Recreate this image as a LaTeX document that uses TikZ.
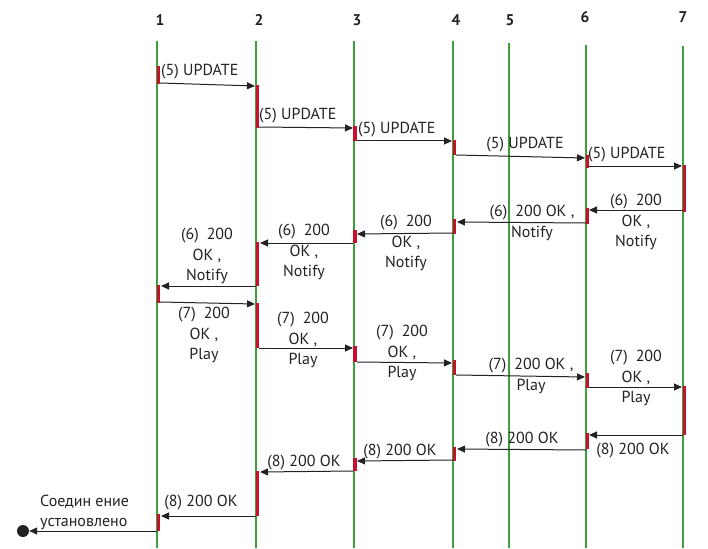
\documentclass[tikz,border=0pt]{standalone}
\usepackage{fontspec}
\setmainfont{PT Sans}
\usetikzlibrary{arrows.meta}
\definecolor{lifegreen}{HTML}{3DA03D}
\definecolor{actred}{HTML}{C8102E}
\definecolor{msgcol}{HTML}{222222}
\tikzset{
  life/.style={draw=lifegreen, line width=1.1pt},
  act/.style={draw=actred, line width=3.8pt},
  msg/.style={draw=msgcol, line width=1pt, -{Triangle[length=8pt,width=7pt]}},
  lbl/.style={font=\fontsize{16}{20.5}\selectfont, inner sep=0pt, text=msgcol},
  mlbl/.style={lbl, align=center},
  head/.style={font=\bfseries\fontsize{15.5}{16}\selectfont, inner sep=0pt, text=msgcol},
}
\begin{document}
\begin{tikzpicture}[x=1pt,y=-1pt]
\useasboundingbox (0,0) rectangle (708,548);
% heads
\node[head] (h1) at (160,19.5) {1};
\node[head] (h2) at (259,19.5) {2};
\node[head] (h3) at (357,20) {3};
\node[head] (h4) at (456,20) {4};
\node[head] (h5) at (510,20) {5};
\node[head] (h6) at (585,17) {6};
\node[head] (h7) at (683,17) {7};
% lifelines
\coordinate (t1) at (157,41); \coordinate (b1) at (157,548);
\coordinate (t2) at (256,41); \coordinate (b2) at (256,548);
\coordinate (t3) at (354,41); \coordinate (b3) at (354,548);
\coordinate (t4) at (453,41); \coordinate (b4) at (453,548);
\coordinate (t5) at (509,43); \coordinate (b5) at (509,548);
\coordinate (t6) at (586,45.5); \coordinate (b6) at (586,548);
\coordinate (t7) at (683,46); \coordinate (b7) at (683,548);
\foreach \i in {1,...,7} {\draw[life] (t\i) -- (b\i);}
% activation bars
\draw[act] (158.5,66) -- (158.5,84);
\draw[act] (257.5,85) -- (257.5,128);
\draw[act] (355,126) -- (355,141);
\draw[act] (454.5,140) -- (454.5,155);
\draw[act] (587.5,155) -- (587.5,168);
\draw[act] (684.5,165) -- (684.5,212);
\draw[act] (587.5,208) -- (587.5,224);
\draw[act] (454.5,219) -- (454.5,234);
\draw[act] (355,230) -- (355,243);
\draw[act] (257.5,242) -- (257.5,286);
\draw[act] (158.5,285) -- (158.5,303);
\draw[act] (257.5,303) -- (257.5,348);
\draw[act] (355,346) -- (355,362);
\draw[act] (454.5,360) -- (454.5,375);
\draw[act] (587.5,373) -- (587.5,388);
\draw[act] (684.5,386) -- (684.5,435);
\draw[act] (587.5,433) -- (587.5,449);
\draw[act] (454.5,447) -- (454.5,461);
\draw[act] (355,458) -- (355,471);
\draw[act] (257.5,471) -- (257.5,516);
\draw[act] (158.5,514) -- (158.5,531);
% messages
\coordinate (m1s) at (160,83);  \coordinate (m1e) at (255,86);
\coordinate (m2s) at (259,127); \coordinate (m2e) at (353,128);
\coordinate (m3s) at (357,141); \coordinate (m3e) at (452,141);
\coordinate (m4s) at (456,155); \coordinate (m4e) at (585,158);
\coordinate (m5s) at (589,166); \coordinate (m5e) at (682,166);
\coordinate (m6s) at (683,210); \coordinate (m6e) at (589,210);
\coordinate (m7s) at (586,223); \coordinate (m7e) at (457,222);
\coordinate (m8s) at (453,233); \coordinate (m8e) at (357,234);
\coordinate (m9s) at (353,243); \coordinate (m9e) at (260,243);
\coordinate (m10s) at (256,286); \coordinate (m10e) at (161,286);
\coordinate (m11s) at (160,302); \coordinate (m11e) at (255,304);
\coordinate (m12s) at (259,348); \coordinate (m12e) at (353,348);
\coordinate (m13s) at (357,362); \coordinate (m13e) at (452,363);
\coordinate (m14s) at (456,375); \coordinate (m14e) at (585,377);
\coordinate (m15s) at (589,387); \coordinate (m15e) at (682,387);
\coordinate (m16s) at (683,435); \coordinate (m16e) at (589,435);
\coordinate (m17s) at (586,450); \coordinate (m17e) at (457,449);
\coordinate (m18s) at (453,460); \coordinate (m18e) at (357,461);
\coordinate (m19s) at (353,471); \coordinate (m19e) at (260,472);
\coordinate (m20s) at (256,516); \coordinate (m20e) at (161,516);
\coordinate (m21s) at (157,531);
\node[circle, fill=msgcol, minimum size=12pt, inner sep=0pt] (dot) at (23,531) {};
\foreach \i in {1,...,20} {\draw[msg] (m\i s) -- (m\i e);}
\draw[msg] (m21s) -- (dot.east);
% labels
\node[lbl, anchor=west] (l1) at (161,72) {(5) UPDATE};
\node[lbl, anchor=west] (l2) at (259,116) {(5) UPDATE};
\node[lbl, anchor=west] (l3) at (358,130) {(5) UPDATE};
\node[lbl] (l4) at (525,145) {(5) UPDATE};
\node[lbl, anchor=west] (l5) at (588,155) {(5) UPDATE};
\node[mlbl] (l6) at (636,222) {(6)\enspace200\\OK ,\\Notify};
\node[mlbl] (l7) at (532,223) {(6)\enspace200 OK ,\\Notify};
\node[mlbl] (l8) at (406,243) {(6)\enspace200\\OK ,\\Notify};
\node[mlbl] (l9) at (304,252) {(6)\enspace200\\OK ,\\Notify};
\node[mlbl] (l10) at (207,256) {(6)\enspace200\\OK ,\\Notify};
\node[mlbl] (l11) at (204,335) {(7)\enspace200\\OK ,\\Play};
\node[mlbl] (l12) at (303,340) {(7)\enspace200\\OK ,\\Play};
\node[mlbl] (l13) at (402,353) {(7)\enspace200\\OK ,\\Play};
\node[mlbl] (l14) at (531,376) {(7)\enspace200 OK ,\\Play};
\node[mlbl] (l15) at (636,378) {(7)\enspace200\\OK ,\\Play};
\node[lbl] (l16) at (633,451) {(8) 200 OK};
\node[lbl] (l17) at (522,440) {(8) 200 OK};
\node[lbl] (l18) at (400,452) {(8) 200 OK};
\node[lbl] (l19) at (304,463) {(8) 200 OK};
\node[lbl] (l20) at (201,503) {(8) 200 OK};
\node[lbl, align=left, anchor=west, font=\fontsize{16}{20}\selectfont] (l21) at (40,512) {Соедин ение\\установлено};
\end{tikzpicture}
\end{document}
